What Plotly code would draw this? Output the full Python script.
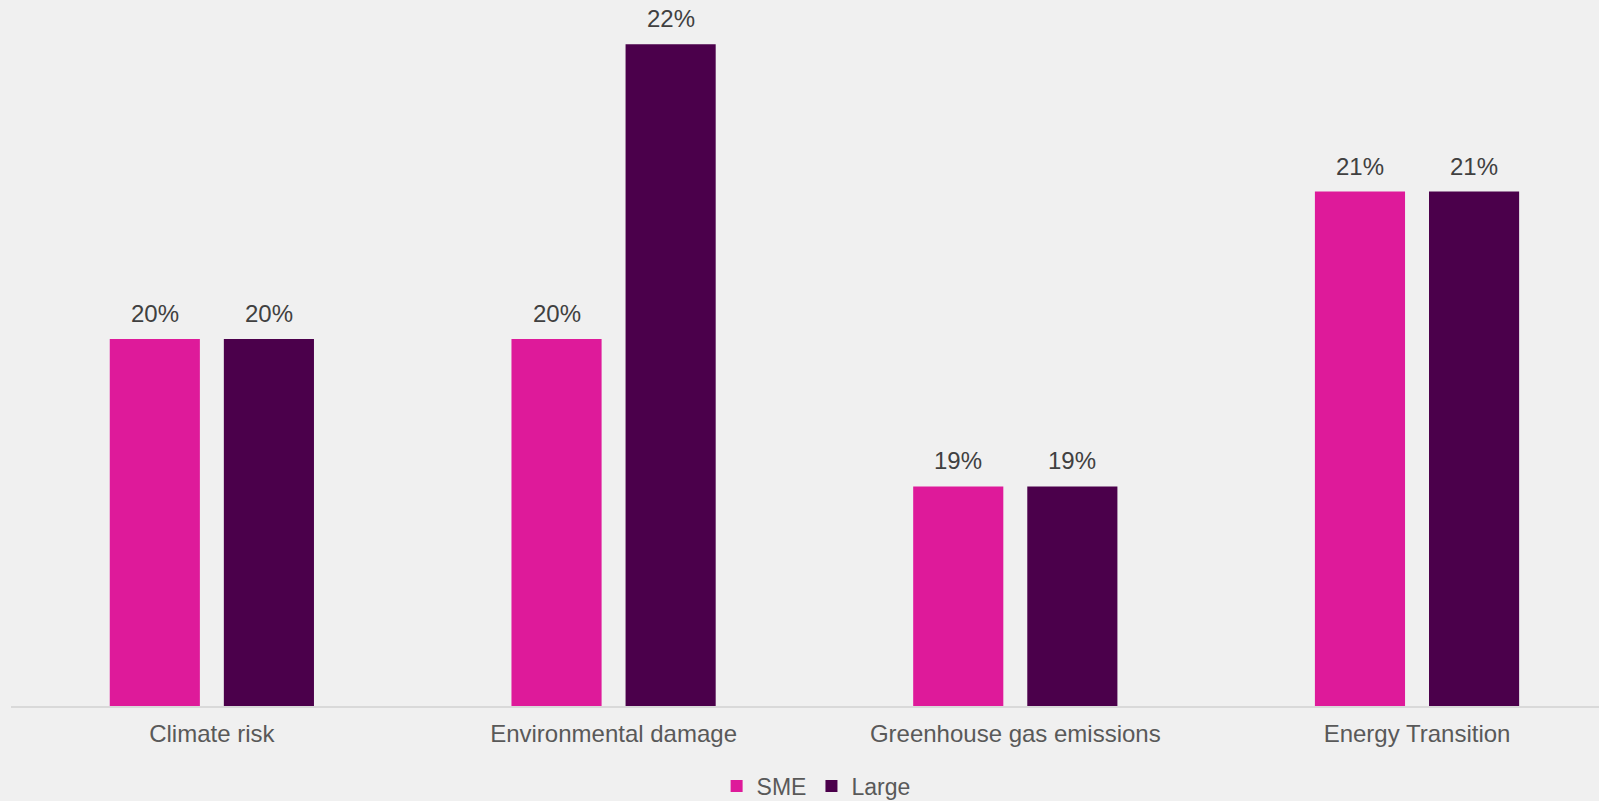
import plotly.graph_objects as go

categories = ["Climate risk", "Environmental damage", "Greenhouse gas emissions", "Energy Transition"]
sme_values = [20, 20, 19, 21]
large_values = [20, 22, 19, 21]
series_names = ["SME", "Large"]
colors = ["#DE1A9A", "#4B004B"]

BG = "#F0F0F0"
FONT = "Liberation Sans, Arial, sans-serif"

fig = go.Figure()
for name, vals, col in zip(series_names, [sme_values, large_values], colors):
    fig.add_trace(go.Bar(
        x=categories, y=vals, name=name,
        marker=dict(color=col, line=dict(width=0)),
        hoverinfo="skip",
    ))

# data labels above bars
slot_px = 114
for j, vals in enumerate([sme_values, large_values]):
    for c, v in zip(categories, vals):
        fig.add_annotation(
            x=c, y=v, text=f"{v}%", showarrow=False,
            xref="x", yref="y", yanchor="bottom",
            xshift=(j - 0.5) * slot_px, yshift=10,
            font=dict(family=FONT, size=24, color="#404040"),
        )

fig.update_layout(
    width=1599, height=801,
    paper_bgcolor=BG, plot_bgcolor=BG,
    margin=dict(l=11, r=0, t=0, b=95),
    barmode="group", bargap=0.432, bargroupgap=0.21,
    font=dict(family=FONT, size=24, color="#595959"),
    showlegend=True,
    legend=dict(
        orientation="h", xanchor="center", x=0.507,
        yref="container", y=1 - 786 / 801, yanchor="middle",
        font=dict(family=FONT, size=23, color="#595959"),
        bgcolor="rgba(0,0,0,0)", itemclick=False,
        traceorder="normal",
    ),
    xaxis=dict(
        type="category", range=[-0.5, 3.453],
        showline=True, linecolor="#D9D9D9", linewidth=2,
        showgrid=False, ticks="", ticklabelstandoff=5,
        tickfont=dict(family=FONT, size=24, color="#595959"),
        fixedrange=True,
    ),
    yaxis=dict(
        range=[17.51, 22.30], visible=False, showgrid=False,
        zeroline=False, fixedrange=True,
    ),
)

fig.write_html(
    "out.html",
    config={"displayModeBar": False, "staticPlot": False},
    post_script="document.body.style.margin='0';document.body.style.overflow='hidden';document.body.style.background='#F0F0F0';",
)
